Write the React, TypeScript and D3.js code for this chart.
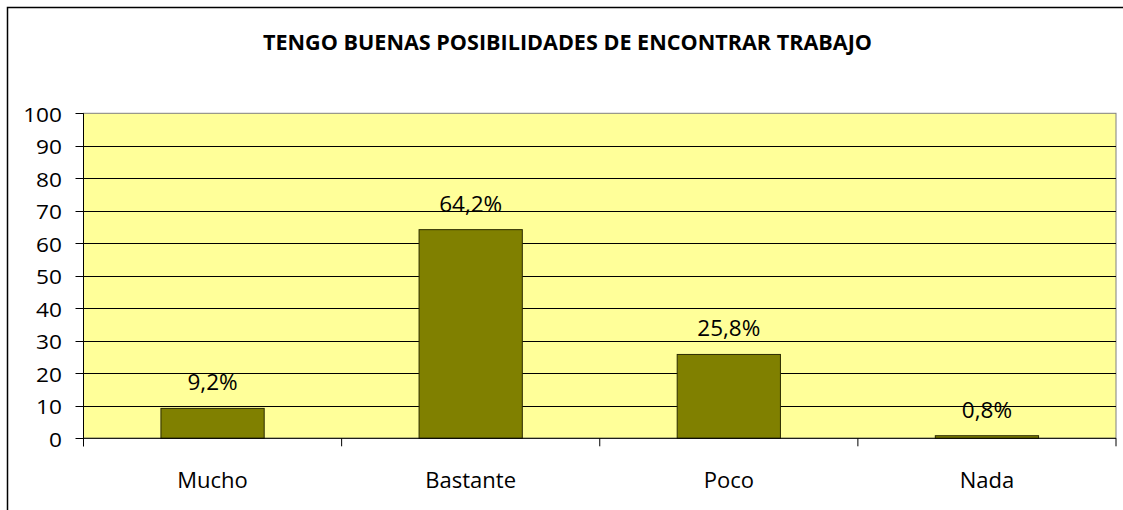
import React from "react";
import * as d3 from "d3";

const categories = ["Mucho", "Bastante", "Poco", "Nada"];
const values = [9.2, 64.2, 25.8, 0.8];
const valueLabels = ["9,2%", "64,2%", "25,8%", "0,8%"];
const yTicks = [0, 10, 20, 30, 40, 50, 60, 70, 80, 90, 100];
const title = "TENGO BUENAS POSIBILIDADES DE ENCONTRAR TRABAJO";

const W = 1123;
const H = 510;
const plot = { left: 83.5, right: 1116, top: 113.3, bottom: 438.3 };
const FONT = "'Open Sans', 'Noto Sans', sans-serif";

function SText(props: { x: number; y: number; anchor: string; size: number; sx?: number; weight?: string; children: React.ReactNode }) {
  const sx = props.sx || 1;
  return (
    <text
      transform={`translate(${props.x},${props.y}) scale(${sx},1)`}
      textAnchor={props.anchor}
      fontSize={props.size}
      fontWeight={props.weight || "normal"}
      fontFamily={FONT}
      fill="#000"
    >
      {props.children}
    </text>
  );
}

export default function App() {
  const x = d3.scaleBand<string>().domain(categories).range([plot.left, plot.right]).paddingInner(0.6).paddingOuter(0.3);
  const band = d3.scaleBand<string>().domain(categories).range([plot.left, plot.right]);
  const y = d3.scaleLinear().domain([0, 100]).range([plot.bottom, plot.top]);

  return (
    <svg width={W} height={H} style={{ position: "absolute", left: 0, top: 0, display: "block" }}>
      <rect x={0} y={0} width={W} height={H} fill="#fff" />
      <rect x={7.5} y={7.5} width={W + 10} height={H + 10} fill="none" stroke="#000" strokeWidth={1.5} />
      <text
        x={567.5}
        y={50}
        textAnchor="middle"
        fontSize={20.5}
        fontWeight="bold"
        fontFamily={FONT}
        textLength={609}
        lengthAdjust="spacingAndGlyphs"
        fill="#000"
      >
        {title}
      </text>

      <rect x={plot.left} y={plot.top} width={plot.right - plot.left} height={plot.bottom - plot.top} fill="#FFFF99" stroke="#808080" strokeWidth={1} />
      {yTicks.filter((t) => t > 0 && t < 100).map((t) => (
        <line key={t} x1={plot.left} x2={plot.right} y1={Math.round(y(t)) + 0.5} y2={Math.round(y(t)) + 0.5} stroke="#000" strokeWidth={1} />
      ))}

      {categories.map((c, i) => (
        <rect
          key={c}
          x={x(c)}
          y={y(values[i])}
          width={x.bandwidth()}
          height={plot.bottom - y(values[i])}
          fill="#808000"
          stroke="#2a2a00"
          strokeWidth={1}
        />
      ))}

      <line x1={plot.left} x2={plot.left} y1={plot.top} y2={plot.bottom + 8} stroke="#000" strokeWidth={1} />
      <line x1={plot.left} x2={plot.right} y1={plot.bottom} y2={plot.bottom} stroke="#000" strokeWidth={1} />
      {yTicks.map((t) => (
        <line key={t} x1={plot.left - 8} x2={plot.left} y1={Math.round(y(t)) + 0.5} y2={Math.round(y(t)) + 0.5} stroke="#000" strokeWidth={1} />
      ))}
      {[...categories.map((c) => band(c) as number), plot.right].map((bx, i) => (
        <line key={i} x1={bx} x2={bx} y1={plot.bottom} y2={plot.bottom + 8} stroke="#000" strokeWidth={1} />
      ))}

      {yTicks.map((t) => (
        <SText key={t} x={62} y={y(t) + 8.4} anchor="end" size={19.2} sx={1.18}>{t}</SText>
      ))}

      {categories.map((c, i) => (
        <SText key={c} x={(band(c) as number) + band.bandwidth() / 2} y={y(values[i]) - 18} anchor="middle" size={22.5}>{valueLabels[i]}</SText>
      ))}

      {categories.map((c) => (
        <SText key={c} x={(band(c) as number) + band.bandwidth() / 2} y={488.3} anchor="middle" size={22}>{c}</SText>
      ))}
    </svg>
  );
}
